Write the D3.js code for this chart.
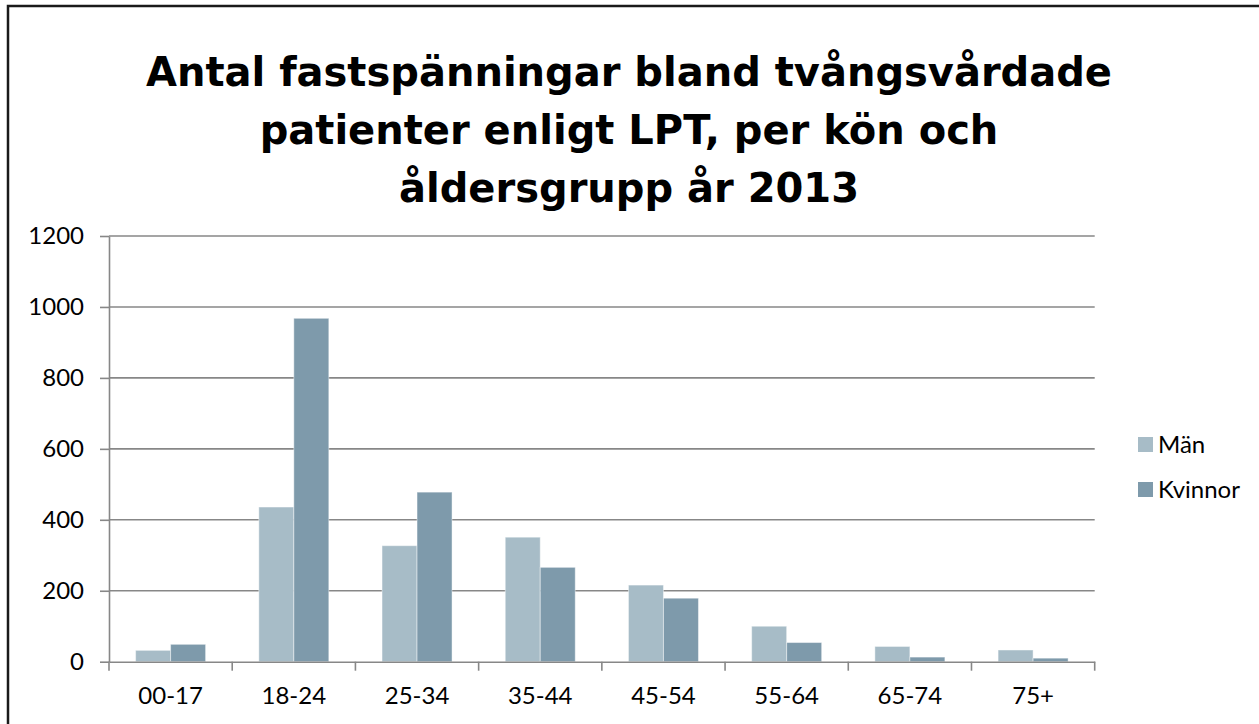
<!DOCTYPE html>
<html>
<head>
<meta charset="utf-8">
<script src="https://cdn.jsdelivr.net/npm/d3@7"></script>
<style>
  body { margin: 0; background: #fff; }
  svg { display: block; }
</style>
</head>
<body>
<div class="container"></div>
<script>

var categories = ["00-17", "18-24", "25-34", "35-44", "45-54", "55-64", "65-74", "75+"];
var seriesNames = ["Män", "Kvinnor"];
var man = [32, 436, 327, 351, 216, 100, 43, 33];
var kvinnor = [49, 968, 478, 266, 179, 54, 13, 10];
var yTicks = [0, 200, 400, 600, 800, 1000, 1200];
var titleLines = ["Antal fastspänningar bland tvångsvårdade",
                  "patienter enligt LPT, per kön och",
                  "åldersgrupp år 2013"];

var colors = {"Män": "#a7bcc7", "Kvinnor": "#7e9aab"};
var gridColor = "#878787";
var labelFont = "Lato, 'DejaVu Sans', sans-serif";

function makeStage(w, h) {
	var stage = d3.select(".container")
				  .append("svg")
				  .attr("width", w)
				  .attr("height", h);
	return stage;
}

var stage = makeStage(1259, 724);

// outer frame (right and bottom edges fall outside the picture)
stage.append("rect")
	 .attr("x", 8)
	 .attr("y", 6)
	 .attr("width", 1300)
	 .attr("height", 800)
	 .style("fill", "none")
	 .style("stroke", "#1a1a1a")
	 .style("stroke-width", "2.5px");

// title
stage.append("g")
	 .selectAll("text")
	 .data(titleLines)
	 .enter().append("text")
	 .attr("x", 629)
	 .attr("y", function (d, i) { return 86 + i * 58; })
	 .attr("text-anchor", "middle")
	 .style("font-family", "'DejaVu Sans', sans-serif")
	 .style("font-weight", "bold")
	 .style("font-size", "40px")
	 .style("fill", "#000")
	 .text(function (d) { return d; });

var plotLeft = 109, plotRight = 1094.7, plotTop = 236, plotBottom = 661.7;

var x0 = d3.scaleBand()
		   .domain(categories)
		   .range([plotLeft, plotRight]);

var x1 = d3.scaleBand()
		   .domain(seriesNames)
		   .range([0, x0.bandwidth()])
		   .paddingOuter(0.76);

var y = d3.scaleLinear()
		  .domain([0, 1200])
		  .range([plotBottom, plotTop]);

// gridlines
stage.append("g")
	 .selectAll("line")
	 .data(yTicks.slice(1))
	 .enter().append("line")
	 .attr("x1", plotLeft)
	 .attr("x2", plotRight)
	 .attr("y1", function (d) { return y(d); })
	 .attr("y2", function (d) { return y(d); })
	 .style("stroke", gridColor)
	 .style("stroke-width", "1.6px");

// bars
var rows = categories.map(function (c, i) {
	return {cat: c, values: [{name: "Män", v: man[i]}, {name: "Kvinnor", v: kvinnor[i]}]};
});

var groups = stage.append("g")
	 .selectAll("g")
	 .data(rows)
	 .enter().append("g")
	 .attr("transform", function (d) { return "translate(" + x0(d.cat) + ",0)"; });

groups.selectAll("rect")
	  .data(function (d) { return d.values; })
	  .enter().append("rect")
	  .attr("x", function (d) { return x1(d.name); })
	  .attr("y", function (d) { return y(d.v); })
	  .attr("width", x1.bandwidth())
	  .attr("height", function (d) { return plotBottom - y(d.v); })
	  .style("fill", function (d) { return colors[d.name]; })
	  .style("stroke", "rgba(255,255,255,0.45)")
	  .style("stroke-width", "1px");

// y axis
var yAxis = stage.append("g")
	 .attr("transform", "translate(" + plotLeft + ",0)")
	 .call(d3.axisLeft(y).tickValues(yTicks).tickFormat(d3.format("d"))
			 .tickSize(9).tickSizeOuter(0).tickPadding(16));

// x axis
var xAxis = stage.append("g")
	 .attr("transform", "translate(0," + plotBottom + ")")
	 .call(d3.axisBottom(x0).tickSize(0).tickPadding(24));

stage.append("g")
	 .selectAll("line")
	 .data(categories.concat(["end"]))
	 .enter().append("line")
	 .attr("x1", function (d, i) { return plotLeft + i * x0.step(); })
	 .attr("x2", function (d, i) { return plotLeft + i * x0.step(); })
	 .attr("y1", plotBottom)
	 .attr("y2", plotBottom + 9)
	 .style("stroke", gridColor)
	 .style("stroke-width", "1.6px");

[yAxis, xAxis].forEach(function (ax) {
	ax.selectAll("path, line")
	  .style("stroke", gridColor)
	  .style("stroke-width", "1.6px");
	ax.selectAll("text")
	  .style("font-family", labelFont)
	  .style("font-size", "24px")
	  .style("fill", "#000");
});
xAxis.selectAll("text").attr("dy", "0.75em");

// legend
var legend = stage.append("g")
	 .selectAll("g")
	 .data(seriesNames)
	 .enter().append("g")
	 .attr("transform", function (d, i) { return "translate(1138," + (437 + i * 45) + ")"; });

legend.append("rect")
	  .attr("width", 15)
	  .attr("height", 15)
	  .style("fill", function (d) { return colors[d]; });

legend.append("text")
	  .attr("x", 20)
	  .attr("y", 16)
	  .style("font-family", labelFont)
	  .style("font-size", "24px")
	  .style("fill", "#000")
	  .text(function (d) { return d; });

</script>
</body>
</html>
